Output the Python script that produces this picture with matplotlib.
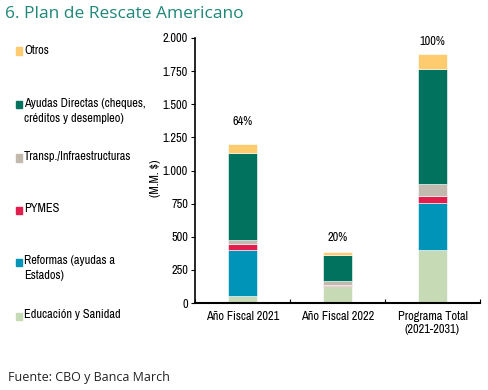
import matplotlib
matplotlib.use("Agg")
import matplotlib.pyplot as plt
import numpy as np
import logging
logging.getLogger("matplotlib.font_manager").setLevel(logging.ERROR)

narrow = ["Liberation Sans Narrow", "Archivo Narrow", "Liberation Sans"]

categories = ["Año Fiscal 2021", "Año Fiscal 2022", "Programa Total\n(2021-2031)"]
series_names = ["Educación y Sanidad", "Reformas (ayudas a\nEstados)", "PYMES",
                "Transp./Infraestructuras", "Ayudas Directas (cheques,\ncréditos y desempleo)", "Otros"]
educacion = [55, 130, 403]
reformas = [342, 0, 352]
pymes = [48, 5, 50]
transp = [28, 29, 93]
ayudas = [657, 201, 870]
otros = [67, 17, 113]
pct_labels = ["64%", "20%", "100%"]
yticks = [0, 250, 500, 750, 1000, 1250, 1500, 1750, 2000]
ytick_labels = ["0", "250", "500", "750", "1.000", "1.250", "1.500", "1.750", "2.000"]

colors = ["#C5DAB5", "#0094B8", "#E31D4C", "#C2BAAE", "#00725E", "#FECB6E"]
data = [educacion, reformas, pymes, transp, ayudas, otros]

FS = 8.9

fig = plt.figure(figsize=(4.89, 3.90), dpi=100)
ax = fig.add_axes([195/489, 1-303/390, 285/489, 265/390])

x = np.arange(len(categories))
bottom = np.zeros(len(categories))
for vals, c in zip(data, colors):
    ax.bar(x, vals, width=0.31, bottom=bottom, color=c, edgecolor="white", linewidth=0.4)
    bottom += np.array(vals)

label_offsets = [16.5, 11, 9]  # points above bar top
for xi, tot, lab, off in zip(x, bottom, pct_labels, label_offsets):
    ax.annotate(lab, (xi, tot), xytext=(0, off), textcoords="offset points",
                ha="center", va="center", fontsize=FS, family=narrow)

ax.set_xlim(-0.5, 2.5)
ax.set_ylim(0, 2000)
ax.set_yticks(yticks)
ax.set_yticklabels(ytick_labels, family=narrow, fontsize=FS)
ax.set_xticks([-0.5, 0.5, 1.5, 2.5], minor=False)
ax.set_xticklabels([])
ax.set_xticks(x, minor=True)
ax.set_xticklabels(categories, minor=True, family=narrow, fontsize=FS, linespacing=1.2)
ax.tick_params(axis="x", which="minor", length=0, pad=6)
ax.tick_params(axis="x", which="major", length=3, direction="in", width=0.8)
ax.tick_params(axis="y", length=3, direction="out", width=0.8, pad=2)
for s in ["top", "right"]:
    ax.spines[s].set_visible(False)
ax.spines["left"].set_linewidth(1.2)
ax.spines["bottom"].set_linewidth(1.5)
ax.set_ylabel("(M.M. $)", family=narrow, fontsize=FS)
ax.yaxis.set_label_coords(-(195 - 161)/285, 0.47)

# Legend (manual, left side); y = pixel row of first text line
leg_y = [316, 262, 210, 158, 105, 51]
for name, c, yy in zip(series_names, colors, leg_y):
    fy = 1 - yy/390
    fig.patches.append(plt.Rectangle((16/489, fy - 3.5/390), 6/489, 7/390,
                                     transform=fig.transFigure, color=c))
    fig.text(24/489, fy + 6.5/390, name, fontsize=FS, family=narrow, va="top", ha="left",
             linespacing=1.35)

fig.text(5/489, 1-14/390, "6. Plan de Rescate Americano", fontsize=12.5, color="#1E8878",
         family="Open Sans", va="center", ha="left")
fig.text(8/489, 1-378/390, "Fuente: CBO y Banca March", fontsize=9, color="#222222",
         family="Open Sans", va="center", ha="left")

fig.savefig("out.png", dpi=100)
